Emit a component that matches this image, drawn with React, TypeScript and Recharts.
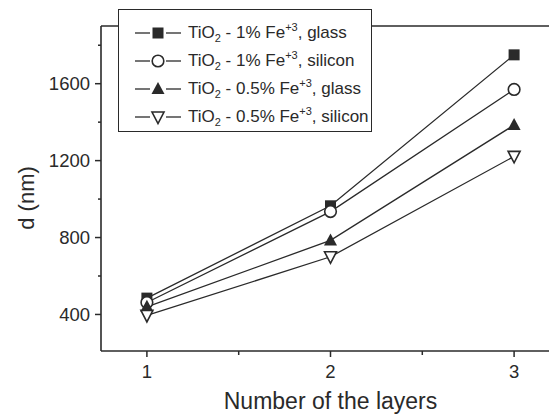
import React from 'react';
import { LineChart, Line, XAxis, YAxis, Legend } from 'recharts';

const layers = [1, 2, 3];
const glass1 = [485, 965, 1750];
const silicon1 = [462, 935, 1570];
const glass05 = [440, 785, 1385];
const silicon05 = [395, 700, 1222];

const seriesKeys = ['glass1', 'silicon1', 'glass05', 'silicon05'];
const seriesPct = ['1%', '1%', '0.5%', '0.5%'];
const seriesSubstrate = ['glass', 'silicon', 'glass', 'silicon'];
const seriesShape = ['square', 'circle', 'triangle', 'triangleDown'];

const xTicks = [1, 1.5, 2, 2.5, 3];
const xMajor = [1, 2, 3];
const yTicks = [400, 600, 800, 1000, 1200, 1400, 1600, 1800];
const yMajor = [400, 800, 1200, 1600];

const data = layers.map((l, i) => ({
  layer: l,
  glass1: glass1[i],
  silicon1: silicon1[i],
  glass05: glass05[i],
  silicon05: silicon05[i],
}));

const INK = '#2a2a2a';
const FONT = '"Liberation Sans", Arial, sans-serif';

function Marker({ shape, cx, cy }: { shape: string; cx: number; cy: number }) {
  if (shape === 'square') {
    return <rect x={cx - 5.5} y={cy - 5.5} width={11} height={11} fill={INK} />;
  }
  if (shape === 'circle') {
    return <circle cx={cx} cy={cy} r={5.8} fill="#fff" stroke={INK} strokeWidth={1.6} />;
  }
  if (shape === 'triangle') {
    return (
      <polygon
        points={`${cx},${cy - 7} ${cx - 6.5},${cy + 5} ${cx + 6.5},${cy + 5}`}
        fill={INK}
      />
    );
  }
  return (
    <polygon
      points={`${cx - 6},${cy - 5} ${cx + 6},${cy - 5} ${cx},${cy + 6.5}`}
      fill="#fff"
      stroke={INK}
      strokeWidth={1.6}
    />
  );
}

function makeDot(shape: string) {
  return (props: any) => {
    const { cx, cy, index } = props;
    if (cx == null || cy == null) return <g key={index} />;
    return <Marker key={`${shape}-${index}`} shape={shape} cx={cx} cy={cy} />;
  };
}

function YTick(props: any) {
  const { x, y, payload } = props;
  const major = yMajor.includes(payload.value);
  return (
    <g>
      <line x1={x - (major ? 6 : 3)} x2={x} y1={y} y2={y} stroke={INK} strokeWidth={1.5} />
      {major && (
        <text x={x - 11} y={y} dy={6.5} textAnchor="end" fontSize={18.5} fontFamily={FONT} fill={INK}>
          {payload.value}
        </text>
      )}
    </g>
  );
}

function XTick(props: any) {
  const { x, y, payload } = props;
  const major = xMajor.includes(payload.value);
  return (
    <g>
      <line x1={x} x2={x} y1={y} y2={y + (major ? 6 : 4)} stroke={INK} strokeWidth={1.5} />
      {major && (
        <text x={x} y={y + 27} textAnchor="middle" fontSize={18.5} fontFamily={FONT} fill={INK}>
          {payload.value}
        </text>
      )}
    </g>
  );
}

function XTitle(props: any) {
  const { viewBox } = props;
  const cx = viewBox && viewBox.width ? viewBox.x + viewBox.width / 2 : 330;
  return (
    <text x={cx} y={409} textAnchor="middle" fontSize={23} fontFamily={FONT} fill={INK}>
      Number of the layers
    </text>
  );
}

function YTitle() {
  return (
    <text
      x={34}
      y={198}
      transform="rotate(-90 34 198)"
      textAnchor="middle"
      fontSize={22}
      fontFamily={FONT}
      fill={INK}
    >
      d (nm)
    </text>
  );
}

function LegendBox() {
  return (
    <div
      style={{
        boxSizing: 'border-box',
        width: 254,
        height: 123,
        border: `1.5px solid ${INK}`,
        background: '#fff',
        paddingTop: 9,
        fontFamily: FONT,
        fontSize: 17,
        color: INK,
      }}
    >
      {seriesKeys.map((k, i) => (
        <div key={k} style={{ height: 28, display: 'flex', alignItems: 'center' }}>
          <svg width={46} height={20} style={{ marginLeft: 16, marginRight: 7, flex: 'none' }}>
            <line x1={0} x2={15} y1={10} y2={10} stroke={INK} strokeWidth={1.3} />
            <line x1={31} x2={46} y1={10} y2={10} stroke={INK} strokeWidth={1.3} />
            <Marker shape={seriesShape[i]} cx={23} cy={10} />
          </svg>
          <span style={{ whiteSpace: 'nowrap', lineHeight: '20px' }}>
            TiO<sub style={{ fontSize: 11, verticalAlign: -4, lineHeight: 0 }}>2</sub>
            {` - ${seriesPct[i]} Fe`}
            <sup style={{ fontSize: 11, verticalAlign: 7, lineHeight: 0 }}>+3</sup>
            {`, ${seriesSubstrate[i]}`}
          </span>
        </div>
      ))}
    </div>
  );
}

export default function App() {
  return (
    <div
      style={{
        position: 'absolute',
        left: 0,
        top: 0,
        width: 549,
        height: 415,
        overflow: 'hidden',
        background: '#fff',
      }}
    >
      <LineChart
        width={580}
        height={415}
        data={data}
        margin={{ top: 16, right: 20, bottom: 24, left: 41 }}
      >
        <XAxis
          dataKey="layer"
          type="number"
          domain={[0.75, 3.25]}
          ticks={xTicks}
          allowDataOverflow
          height={40}
          tickSize={0}
          tickMargin={0}
          tickLine={false}
          tick={<XTick />}
          axisLine={{ stroke: INK, strokeWidth: 1.6 }}
          interval={0}
          label={<XTitle />}
        />
        <XAxis
          xAxisId="top"
          orientation="top"
          dataKey="layer"
          type="number"
          domain={[0.75, 3.25]}
          allowDataOverflow
          height={10}
          tick={false}
          tickLine={false}
          axisLine={{ stroke: INK, strokeWidth: 1.6 }}
        />
        <YAxis
          type="number"
          domain={[210, 1900]}
          ticks={yTicks}
          allowDataOverflow
          width={60}
          tickSize={0}
          tickMargin={0}
          tickLine={false}
          tick={<YTick />}
          interval={0}
          axisLine={{ stroke: INK, strokeWidth: 1.6 }}
          label={<YTitle />}
        />
        {seriesKeys.map((k, i) => (
          <Line
            key={k}
            dataKey={k}
            stroke={INK}
            strokeWidth={1.3}
            isAnimationActive={false}
            dot={makeDot(seriesShape[i])}
            activeDot={false}
            legendType="none"
          />
        ))}
        <Legend
          layout="horizontal"
          verticalAlign="middle"
          align="center"
          content={() => <LegendBox />}
          wrapperStyle={{ left: 118, top: 9, width: 254, height: 123 }}
        />
      </LineChart>
    </div>
  );
}
